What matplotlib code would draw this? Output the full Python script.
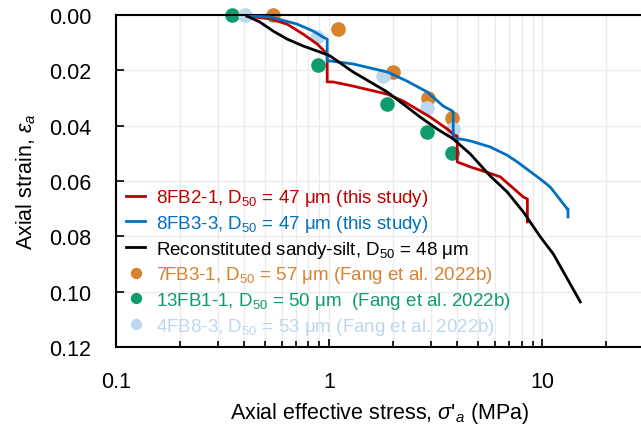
import matplotlib
matplotlib.use("Agg")
import matplotlib.pyplot as plt
from matplotlib.ticker import LogLocator, FixedLocator, NullFormatter, FuncFormatter

plt.rcParams['font.family'] = ['Liberation Sans', 'DejaVu Sans']
plt.rcParams['mathtext.fontset'] = 'custom'
plt.rcParams['mathtext.rm'] = 'Liberation Sans'
plt.rcParams['mathtext.it'] = 'Liberation Sans:italic'

# 8FB2-1 (this study)
red_x = [0.412, 0.528, 0.635, 0.755, 0.879, 0.979, 0.979, 1.044, 1.296, 1.872, 2.225, 2.98, 3.58, 3.91, 3.99, 3.99, 4.59, 5.28, 6.35, 8.15, 8.51, 8.51]
red_y = [0.0004, 0.0014, 0.0033, 0.0069, 0.0105, 0.0141, 0.0242, 0.0242, 0.0257, 0.0286, 0.0311, 0.0369, 0.0412, 0.0437, 0.0437, 0.0531, 0.0549, 0.0564, 0.0585, 0.0658, 0.0665, 0.0748]
# 8FB3-3 (this study)
blue_x = [0.412, 0.528, 0.708, 0.841, 0.937, 0.979, 0.979, 1.01, 1.296, 1.872, 2.32, 2.88, 3.43, 3.78, 3.82, 3.82, 4.12, 4.59, 5.70, 6.85, 7.63, 9.79, 10.9, 11.75, 13.1, 13.2, 13.2]
blue_y = [0.0004, 0.0007, 0.0033, 0.0058, 0.0080, 0.0087, 0.0166, 0.0166, 0.0177, 0.0206, 0.0239, 0.0278, 0.0329, 0.0347, 0.0351, 0.0448, 0.0448, 0.0455, 0.0477, 0.0507, 0.0531, 0.0593, 0.0622, 0.0654, 0.0701, 0.0701, 0.0730]
# Reconstituted sandy-silt
blk_x = [0.412, 0.472, 0.546, 0.635, 0.755, 0.907, 1.01, 1.296, 1.872, 2.675, 3.21, 3.82, 4.59, 5.70, 6.85, 8.15, 9.79, 11.27, 15.08]
blk_y = [0.0004, 0.0025, 0.0058, 0.0087, 0.0112, 0.0134, 0.0148, 0.0206, 0.0278, 0.0369, 0.0412, 0.0448, 0.0502, 0.0582, 0.0640, 0.0712, 0.0802, 0.0864, 0.1037]
# Fang et al. 2022b points
or_x = [0.546, 1.10, 2.0, 2.92, 3.78]
or_y = [0.0, 0.0051, 0.0206, 0.0300, 0.0372]
gr_x = [0.351, 0.887, 1.87, 2.88, 3.78]
gr_y = [0.0, 0.0181, 0.0321, 0.0423, 0.0499]
lb_x = [0.404, 0.879, 1.79, 2.88, 3.82]
lb_y = [0.0, 0.0080, 0.0221, 0.0336, 0.0412]

labels = [r'8FB2-1, D$_{50}$ = 47 μm (this study)',
          r'8FB3-3, D$_{50}$ = 47 μm (this study)',
          r'Reconstituted sandy-silt, D$_{50}$ = 48 μm',
          r'7FB3-1, D$_{50}$ = 57 μm (Fang et al. 2022b)',
          r'13FB1-1, D$_{50}$ = 50 μm  (Fang et al. 2022b)',
          r'4FB8-3, D$_{50}$ = 53 μm (Fang et al. 2022b)']
c_red, c_blue, c_blk = '#C00000', '#0070C0', '#000000'
c_or, c_gr, c_lb = '#D9822B', '#0E9C6E', '#BDD7EE'

fig = plt.figure(figsize=(6.41, 4.27), dpi=100)
ax = fig.add_axes([116/641, 1 - 348/427, (644 - 116)/641, (348 - 16)/427])

ax.plot(or_x, or_y, 'o', color=c_or, ms=9.5, zorder=2, label=labels[3], clip_on=False)
ax.plot(gr_x, gr_y, 'o', color=c_gr, ms=9.5, zorder=2, label=labels[4], clip_on=False)
ax.plot(lb_x, lb_y, 'o', color=c_lb, ms=9.5, zorder=2, label=labels[5], clip_on=False)
ax.plot(red_x, red_y, '-', color=c_red, lw=2, zorder=3, label=labels[0])
ax.plot(blue_x, blue_y, '-', color=c_blue, lw=2, zorder=3, label=labels[1])
ax.plot(blk_x, blk_y, '-', color=c_blk, lw=2, zorder=3, label=labels[2])

ax.set_xscale('log')
ax.set_xlim(0.1, 30)
ax.set_ylim(0.12, 0.0)
ax.yaxis.set_major_locator(FixedLocator([0, 0.02, 0.04, 0.06, 0.08, 0.10, 0.12]))
ax.yaxis.set_major_formatter(FuncFormatter(lambda v, p: f'{v:.2f}'))
ax.xaxis.set_major_locator(FixedLocator([0.1, 1, 10]))
ax.xaxis.set_major_formatter(FuncFormatter(lambda v, p: f'{v:g}'))
ax.xaxis.set_minor_locator(LogLocator(base=10, subs=range(2, 10)))
ax.xaxis.set_minor_formatter(NullFormatter())

ax.grid(True, which='major', color='#EBEBEB', lw=1)
ax.grid(True, which='minor', axis='x', color='#EBEBEB', lw=1)
ax.set_axisbelow(True)

ax.tick_params(axis='both', which='both', direction='in', labelsize=15.5, color='black')
ax.tick_params(axis='x', which='major', length=6, width=1.2, pad=17)
ax.tick_params(axis='x', which='minor', length=4, width=1.2)
ax.tick_params(axis='y', which='major', length=6, width=1.2, pad=18)
for s in ['left', 'top', 'bottom']:
    ax.spines[s].set_linewidth(1.5)
ax.spines['right'].set_visible(False)

ax.set_xlabel(r"Axial effective stress, $\sigma$'$_a$ (MPa)", fontsize=15.5, labelpad=6)
ax.set_ylabel(r"Axial strain, $\varepsilon_a$", fontsize=15.5, labelpad=8)

h, l = ax.get_legend_handles_labels()
order = [3, 4, 5, 0, 1, 2]
leg = ax.legend([h[i] for i in order], [l[i] for i in order], loc='lower left',
                bbox_to_anchor=(0.0, 0.0), frameon=False, fontsize=13.5,
                handlelength=1.0, handletextpad=0.6, labelspacing=0.25,
                borderaxespad=0.25, borderpad=0.3, markerscale=0.75)
cols = [c_red, c_blue, c_blk, c_or, c_gr, c_lb]
for t, c in zip(leg.get_texts(), cols):
    t.set_color(c)

fig.savefig('out.png', dpi=100)
